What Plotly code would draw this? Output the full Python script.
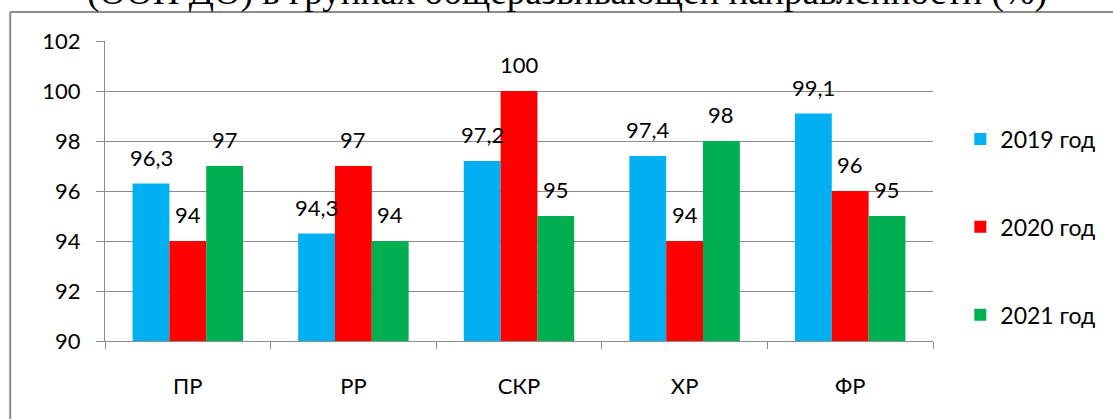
import plotly.graph_objects as go

categories = ["ПР", "РР", "СКР", "ХР", "ФР"]
series_names = ["2019 год", "2020 год", "2021 год"]
values_2019 = [96.3, 94.3, 97.2, 97.4, 99.1]
values_2020 = [94, 97, 100, 94, 96]
values_2021 = [97, 94, 95, 98, 95]
colors = ["#00B0F0", "#FF0000", "#00B050"]
title_text = "(ООП ДО) в группах общеразвивающей направленности (%)"

all_values = [values_2019, values_2020, values_2021]

def fmt(v):
    s = ("%g" % v)
    return s.replace(".", ",")

fig = go.Figure()
for i, (name, vals, col) in enumerate(zip(series_names, all_values, colors)):
    fig.add_trace(go.Bar(
        x=categories, y=vals, name=name, marker_color=col,
        marker_line_width=0, legendgroup=name,
        cliponaxis=False,
    ))

# data labels
bar_px = 36.7
for i, vals in enumerate(all_values):
    for c, v in zip(categories, vals):
        fig.add_annotation(
            x=c, y=v, xref="x", yref="y", text=fmt(v), showarrow=False,
            xshift=(i - 1) * bar_px, yshift=11, yanchor="bottom",
            font=dict(family="Lato", size=22, color="#000000"),
        )

# title (cropped at top, as in the reference)
fig.add_annotation(
    x=0.558, y=1.085, xref="paper", yref="paper", text=title_text,
    showarrow=False, xanchor="center", yanchor="bottom",
    font=dict(family="Liberation Serif", size=37, color="#000000"),
)

# outer frame
fig.add_shape(type="line", xref="paper", yref="paper",
              x0=-0.1145, x1=-0.1145, y0=-0.3, y1=1.0967,
              line=dict(color="#8c8c8c", width=2))
fig.add_shape(type="line", xref="paper", yref="paper",
              x0=-0.1145, x1=1.3, y0=1.0967, y1=1.0967,
              line=dict(color="#8c8c8c", width=2))

fig.update_layout(
    width=1113, height=419,
    margin=dict(l=105, r=178, t=41, b=78),
    paper_bgcolor="white", plot_bgcolor="white",
    barmode="group", bargap=0.333, bargroupgap=0,
    font=dict(family="Lato", size=22, color="#000000"),
    showlegend=True,
    legend=dict(
        x=1.033, y=0.38, xanchor="left", yanchor="middle",
        font=dict(family="Lato", size=23),
        tracegroupgap=55, traceorder="grouped",
        itemwidth=30,
    ),
)
fig.update_xaxes(
    showline=True, linecolor="#8c8c8c", linewidth=1,
    ticks="outside", tickson="boundaries", ticklen=7, tickcolor="#8c8c8c",
    ticklabelstandoff=26, showgrid=False,
    tickfont=dict(family="Lato", size=22),
)
fig.update_yaxes(
    range=[90, 102], dtick=2, tick0=90,
    showline=True, linecolor="#8c8c8c", linewidth=1,
    showgrid=True, gridcolor="#8c8c8c", gridwidth=1,
    ticks="outside", ticklen=8, tickcolor="#8c8c8c",
    ticklabelstandoff=11, zeroline=False,
    tickfont=dict(family="Lato", size=22),
)

fig.write_html("out.html",
               config={"displayModeBar": False},
               post_script="document.body.style.margin='0';document.body.style.overflow='hidden';")
